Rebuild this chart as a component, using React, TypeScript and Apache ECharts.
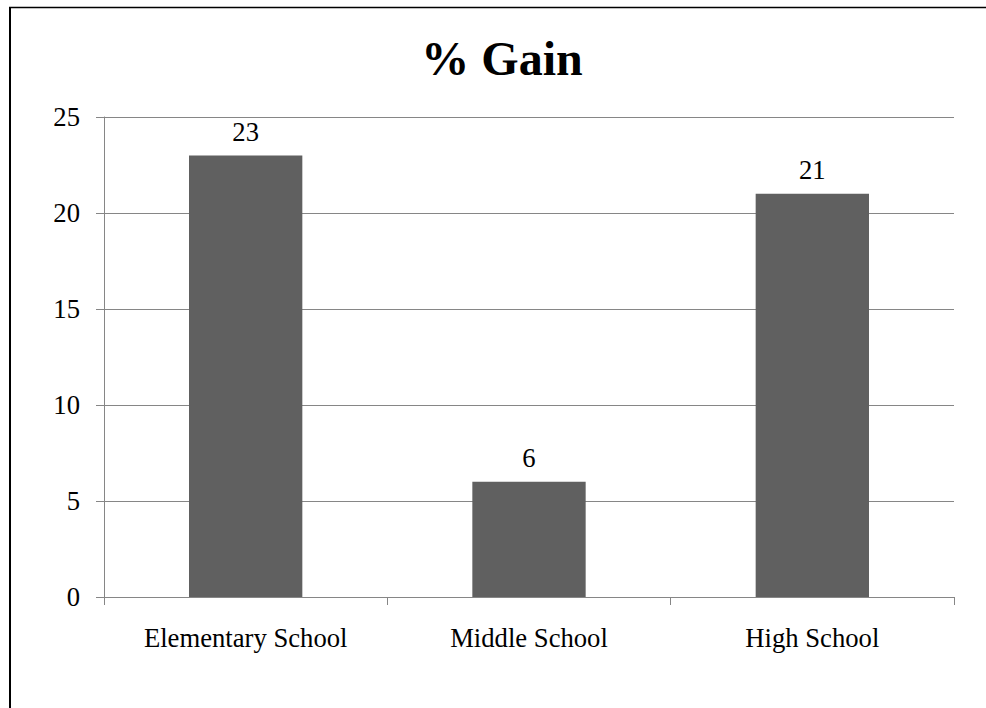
import React, { useEffect, useRef } from "react";
import * as echarts from "echarts";

const categories = ["Elementary School", "Middle School", "High School"];
const gainValues = [23, 6, 21];
const titleText = "% Gain";

const FONT = "Times New Roman, Liberation Serif, serif";

export default function App() {
  const ref = useRef<HTMLDivElement>(null);
  useEffect(() => {
    document.body.style.margin = "0";
    const chart = echarts.init(ref.current!, null, { renderer: "svg" });
    chart.setOption({
      animation: false,
      backgroundColor: "#ffffff",
      textStyle: { fontFamily: FONT },
      title: {
        text: titleText,
        left: 497,
        textAlign: "center",
        top: 29,
        textStyle: { fontFamily: FONT, fontSize: 48, fontWeight: "bold", color: "#000" },
      },
      grid: { left: 104, top: 117, right: 32, bottom: 111 },
      xAxis: {
        type: "category",
        data: categories,
        axisLine: { show: true, lineStyle: { color: "#868686", width: 1 } },
        axisTick: { show: true, length: 8, alignWithLabel: false, lineStyle: { color: "#868686" } },
        axisLabel: { margin: 27, fontFamily: FONT, fontSize: 26.67, color: "#000" },
        splitLine: { show: false },
      },
      yAxis: {
        type: "value",
        min: 0,
        max: 25,
        interval: 5,
        axisLine: { show: true, lineStyle: { color: "#868686", width: 1 } },
        axisTick: { show: true, length: 8, lineStyle: { color: "#868686" } },
        axisLabel: { margin: 24, fontFamily: FONT, fontSize: 26.67, color: "#000" },
        splitLine: { show: true, lineStyle: { color: "#868686", width: 1 } },
      },
      series: [
        {
          type: "bar",
          data: gainValues,
          barWidth: "40%",
          itemStyle: { color: "#606060" },
          label: {
            show: true,
            position: "top",
            distance: 10,
            fontFamily: FONT,
            fontSize: 26.67,
            color: "#000",
          },
        },
      ],
      graphic: [
        { type: "line", shape: { x1: 10, y1: 7, x2: 10, y2: 708 }, style: { stroke: "#000", lineWidth: 2 } },
        { type: "line", shape: { x1: 9, y1: 7.5, x2: 986, y2: 7.5 }, style: { stroke: "#000", lineWidth: 1.5 } },
      ],
    });
    return () => chart.dispose();
  }, []);
  return <div ref={ref} style={{ width: 986, height: 708 }} />;
}
